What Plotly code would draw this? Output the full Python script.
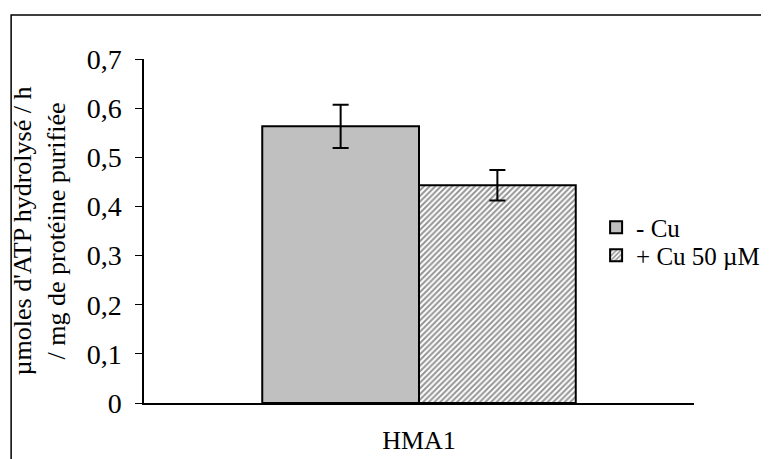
import plotly.graph_objects as go

# data
categories = ["HMA1"]
series_names = ["- Cu", "+ Cu 50 µM"]
values_minus_cu = [0.563]
errors_minus_cu = [0.044]
values_plus_cu = [0.443]
errors_plus_cu = [0.031]
y_ticks = [0, 0.1, 0.2, 0.3, 0.4, 0.5, 0.6, 0.7]
y_tick_labels = ["0", "0,1", "0,2", "0,3", "0,4", "0,5", "0,6", "0,7"]

font_family = "Liberation Serif, Times New Roman, serif"

fig = go.Figure()
fig.add_trace(go.Bar(
    x=categories, y=values_minus_cu, name=series_names[0], legend="legend",
    marker=dict(color="#c0c0c0", line=dict(color="black", width=2)),
    error_y=dict(type="data", array=errors_minus_cu, color="black", thickness=2, width=8),
))
fig.add_trace(go.Bar(
    x=categories, y=values_plus_cu, name=series_names[1], legend="legend2",
    marker=dict(
        color="white",
        line=dict(color="black", width=2),
        pattern=dict(shape="/", fgcolor="#2a2a2a", bgcolor="white", size=4, solidity=0.5),
    ),
    error_y=dict(type="data", array=errors_plus_cu, color="black", thickness=2, width=8),
))

# outer frame around the chart area
fig.add_shape(type="rect", xref="paper", yref="paper",
              x0=-0.2416, x1=1.3, y0=-0.3, y1=1.128,
              line=dict(color="black", width=1.5), layer="below")

legend_style = dict(xanchor="left", yanchor="top", font=dict(size=25),
                    bgcolor="rgba(0,0,0,0)")

fig.update_layout(
    width=769, height=459,
    margin=dict(l=136, r=70, t=51, b=64),
    paper_bgcolor="white", plot_bgcolor="white",
    font=dict(family=font_family, size=26, color="black"),
    barmode="group", bargap=0.43, bargroupgap=0,
    showlegend=True,
    legend=dict(x=0.822, y=0.577, **legend_style),
    legend2=dict(x=0.822, y=0.496, **legend_style),
    xaxis=dict(showline=True, linecolor="black", linewidth=1.5, ticks="",
               ticklabelstandoff=13, tickfont=dict(size=26), automargin=False),
    yaxis=dict(range=[0, 0.7], tickvals=y_ticks, ticktext=y_tick_labels,
               showline=True, linecolor="black", linewidth=1.5,
               ticks="outside", ticklen=7, tickcolor="black", showgrid=False,
               zeroline=False, tickfont=dict(size=28), automargin=False,
               ticklabelstandoff=8,
               title=dict(text="µmoles d'ATP hydrolysé / h<br>/ mg de protéine purifiée",
                          font=dict(size=26), standoff=20)),
)

fig.write_html("out.html")
